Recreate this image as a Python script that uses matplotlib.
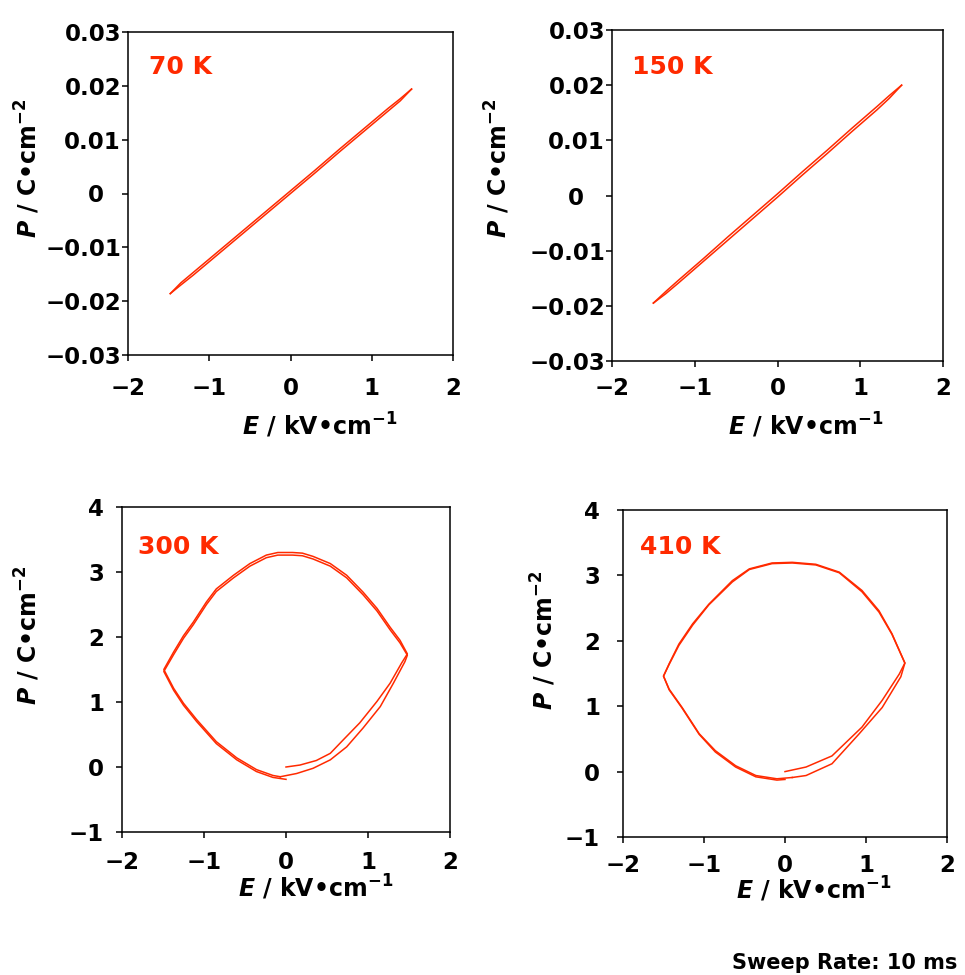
import matplotlib
matplotlib.use("Agg")
import matplotlib.pyplot as plt
from matplotlib.transforms import ScaledTranslation

plt.rcParams["font.family"] = ["DejaVu Sans"]
plt.rcParams["font.weight"] = "bold"
plt.rcParams["mathtext.fontset"] = "custom"
plt.rcParams["mathtext.rm"] = "DejaVu Sans:bold"
plt.rcParams["mathtext.bf"] = "DejaVu Sans:bold"
plt.rcParams["mathtext.it"] = "DejaVu Sans:italic:bold"
plt.rcParams["mathtext.default"] = "rm"

RED = "#ff2a00"

# ---- axis ticks ----
e_ticks = [-2, -1, 0, 1, 2]
e_tick_labels = ["\u22122", "\u22121", "0", "1", "2"]
p_ticks_low = [-0.03, -0.02, -0.01, 0.0, 0.01, 0.02, 0.03]
p_tick_labels_low = ["\u22120.03", "\u22120.02", "\u22120.01", "0", "0.01", "0.02", "0.03"]
p_ticks_high = [-1, 0, 1, 2, 3, 4]
p_tick_labels_high = ["\u22121", "0", "1", "2", "3", "4"]

temperatures = ["70 K", "150 K", "300 K", "410 K"]

# ---- 70 K : rising (E up) and falling (E down) branches ----
e70_up = [-1.48, -1.35, -1.20, -0.90, -0.60, -0.30, 0.00, 0.30, 0.60, 0.90, 1.20, 1.35, 1.49]
p70_up = [-0.0186, -0.0170, -0.0152, -0.0114, -0.0076, -0.0038, 0.0000, 0.0038, 0.0077, 0.0115, 0.0153, 0.0172, 0.0194]
e70_dn = [1.49, 1.35, 1.20, 0.90, 0.60, 0.30, 0.00, -0.30, -0.60, -0.90, -1.20, -1.35, -1.48]
p70_dn = [0.0194, 0.0176, 0.0158, 0.0120, 0.0082, 0.0043, 0.0005, -0.0033, -0.0071, -0.0109, -0.0147, -0.0166, -0.0186]

# ---- 150 K ----
e150_up = [-1.50, -1.35, -1.20, -0.90, -0.60, -0.30, 0.00, 0.30, 0.60, 0.90, 1.20, 1.35, 1.50]
p150_up = [-0.0195, -0.0178, -0.0159, -0.0120, -0.0081, -0.0042, -0.0003, 0.0037, 0.0076, 0.0116, 0.0155, 0.0176, 0.0200]
e150_dn = [1.50, 1.35, 1.20, 0.90, 0.60, 0.30, 0.00, -0.30, -0.60, -0.90, -1.20, -1.35, -1.50]
p150_dn = [0.0200, 0.0181, 0.0161, 0.0122, 0.0082, 0.0043, 0.0003, -0.0036, -0.0075, -0.0115, -0.0154, -0.0174, -0.0195]

# ---- 300 K : two successive field cycles ----
e300_c1 = [0.00, 0.17, 0.37, 0.54, 0.70, 0.90, 1.11, 1.27, 1.41, 1.48,
           1.39, 1.27, 1.11, 0.94, 0.74, 0.54, 0.33, 0.20, 0.08, -0.10, -0.24,
           -0.44, -0.64, -0.85, -0.97, -1.13, -1.25, -1.37, -1.49,
           -1.37, -1.25, -1.09, -0.85, -0.60, -0.36, -0.16, -0.07]
p300_c1 = [0.00, 0.03, 0.10, 0.21, 0.42, 0.68, 1.01, 1.29, 1.60, 1.74,
           1.95, 2.15, 2.44, 2.69, 2.95, 3.13, 3.24, 3.29, 3.30, 3.30, 3.26,
           3.13, 2.95, 2.74, 2.54, 2.23, 2.02, 1.77, 1.50,
           1.21, 0.98, 0.73, 0.39, 0.14, -0.04, -0.13, -0.15]
e300_c2 = [-0.07, 0.13, 0.33, 0.54, 0.74, 0.94, 1.15, 1.31, 1.45, 1.48,
           1.39, 1.27, 1.11, 0.94, 0.74, 0.54, 0.33, 0.20, 0.08, -0.10, -0.24,
           -0.44, -0.64, -0.85, -0.97, -1.13, -1.25, -1.37, -1.49,
           -1.37, -1.25, -1.09, -0.85, -0.60, -0.36, -0.16, 0.00]
p300_c2 = [-0.15, -0.10, -0.02, 0.11, 0.31, 0.60, 0.93, 1.29, 1.62, 1.72,
           1.91, 2.11, 2.40, 2.65, 2.91, 3.09, 3.20, 3.25, 3.26, 3.26, 3.22,
           3.09, 2.91, 2.70, 2.50, 2.19, 1.98, 1.73, 1.47,
           1.18, 0.95, 0.70, 0.36, 0.11, -0.07, -0.16, -0.19]

# ---- 410 K ----
e410_c1 = [0.00, 0.26, 0.58, 0.95, 1.20, 1.41, 1.48,
           1.32, 1.16, 0.95, 0.67, 0.38, 0.09, -0.16, -0.44, -0.65,
           -0.94, -1.14, -1.31, -1.43, -1.50,
           -1.43, -1.27, -1.06, -0.86, -0.61, -0.36, -0.10, 0.09]
p410_c1 = [0.00, 0.07, 0.24, 0.68, 1.09, 1.49, 1.66,
           2.11, 2.46, 2.77, 3.05, 3.17, 3.20, 3.19, 3.10, 2.92,
           2.56, 2.26, 1.95, 1.65, 1.46,
           1.26, 0.98, 0.58, 0.32, 0.09, -0.06, -0.11, -0.09]
e410_c2 = [0.09, 0.26, 0.58, 0.91, 1.20, 1.43, 1.48,
           1.32, 1.16, 0.95, 0.67, 0.38, 0.09, -0.16, -0.44, -0.65,
           -0.94, -1.14, -1.31, -1.43, -1.50,
           -1.43, -1.27, -1.06, -0.86, -0.61, -0.36, -0.10, 0.00]
p410_c2 = [-0.09, -0.06, 0.12, 0.57, 0.98, 1.45, 1.66,
           2.10, 2.44, 2.75, 3.04, 3.16, 3.19, 3.18, 3.09, 2.90,
           2.55, 2.24, 1.93, 1.64, 1.46,
           1.25, 0.97, 0.57, 0.30, 0.07, -0.08, -0.13, -0.12]

W, H = 965, 975
fig = plt.figure(figsize=(W / 100, H / 100), dpi=100)


def px(x, y):
    return x / W, 1 - y / H


def make_axes(left, top, right, bottom):
    return fig.add_axes([left / W, 1 - bottom / H, (right - left) / W, (bottom - top) / H])


panels = [
    dict(box=(128, 32, 453, 355), curves=[(e70_up, p70_up), (e70_dn, p70_dn)],
         ylim=(-0.03, 0.03), yt=p_ticks_low, ytl=p_tick_labels_low, ypad=1, xpad=12,
         zero_shift=-17, temp=(149, 67), xlab=(320, 425), ylab=(28, 168)),
    dict(box=(612, 30, 943, 361), curves=[(e150_up, p150_up), (e150_dn, p150_dn)],
         ylim=(-0.03, 0.03), yt=p_ticks_low, ytl=p_tick_labels_low, ypad=1, xpad=7.5,
         zero_shift=-21, temp=(632, 67), xlab=(806, 425), ylab=(497, 168)),
    dict(box=(122, 507, 450, 832), curves=[(e300_c1, p300_c1), (e300_c2, p300_c2)],
         ylim=(-1, 4), yt=p_ticks_high, ytl=p_tick_labels_high, ypad=9, xpad=10,
         zero_shift=0, temp=(138, 547), xlab=(316, 888), ylab=(28, 635)),
    dict(box=(623, 510, 947, 837), curves=[(e410_c1, p410_c1), (e410_c2, p410_c2)],
         ylim=(-1, 4), yt=p_ticks_high, ytl=p_tick_labels_high, ypad=12.5, xpad=8.5,
         zero_shift=0, temp=(640, 547), xlab=(814, 890), ylab=(543, 640)),
]

E_LABEL = "$\\mathit{E}$ / kV\u2022cm$^{-1}$"
P_LABEL = "$\\mathit{P}$ / C\u2022cm$^{-2}$"

for spec, temp in zip(panels, temperatures):
    ax = make_axes(*spec["box"])
    for e_vals, p_vals in spec["curves"]:
        ax.plot(e_vals, p_vals, color=RED, lw=1.1, solid_joinstyle="round")
    ax.set_xlim(-2, 2)
    ax.set_ylim(*spec["ylim"])
    ax.set_xticks(e_ticks)
    ax.set_xticklabels(e_tick_labels)
    ax.set_yticks(spec["yt"])
    ax.set_yticklabels(spec["ytl"])
    for s in ax.spines.values():
        s.set_linewidth(1.1)
    ax.tick_params(axis="both", direction="out", length=4, width=1.1,
                   labelsize=16.5, colors="black")
    ax.tick_params(axis="y", pad=spec["ypad"])
    ax.tick_params(axis="x", pad=spec["xpad"])
    if spec["zero_shift"]:
        shift = ScaledTranslation(spec["zero_shift"] / 100, 0, fig.dpi_scale_trans)
        for lab in ax.get_yticklabels():
            if lab.get_text() == "0":
                lab.set_transform(lab.get_transform() + shift)

    tx, ty = px(*spec["temp"])
    fig.text(tx, ty, temp, color=RED, fontsize=18, fontweight="bold",
             ha="left", va="center")
    lx, ly = px(*spec["xlab"])
    fig.text(lx, ly, E_LABEL, fontsize=17, fontweight="bold",
             ha="center", va="center")
    yx, yy = px(*spec["ylab"])
    fig.text(yx, yy, P_LABEL, fontsize=17, fontweight="bold",
             ha="center", va="center", rotation=90)

sx, sy = px(957, 963)
fig.text(sx, sy, "Sweep Rate: 10 ms", fontsize=15, fontweight="bold",
         ha="right", va="center")

fig.savefig("out.png", dpi=100)
